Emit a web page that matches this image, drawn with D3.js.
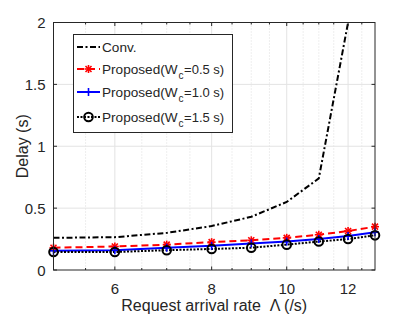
<!DOCTYPE html>
<html><head><meta charset="utf-8">
<script src="https://cdn.jsdelivr.net/npm/d3@7"></script>
<style>body{margin:0;background:#fff}svg{display:block}text{font-family:"Liberation Sans",Arial,sans-serif;fill:#262626;white-space:pre}</style>
</head><body>
<svg id="c" width="415" height="317"></svg>
<script>
const lambda = [5, 6, 7, 8, 9, 10, 11, 12, 13];
const conv   = [0.26, 0.265, 0.30, 0.355, 0.43, 0.55, 0.74, 2.0, null];
const wc05   = [0.18, 0.19, 0.205, 0.225, 0.24, 0.26, 0.285, 0.315, 0.35];
const wc10   = [0.155, 0.16, 0.18, 0.195, 0.215, 0.23, 0.25, 0.275, 0.305];
const wc15   = [0.145, 0.145, 0.16, 0.17, 0.18, 0.205, 0.23, 0.25, 0.28];
const xTicks = [6, 8, 10, 12];
const xMinor = [5.5, 6.5, 7, 7.5, 8.5, 9, 9.5, 10.5, 11, 11.5, 12.5];
const yTicks = [0, 0.5, 1, 1.5, 2];
const yTickLabels = ["0", "0.5", "1", "1.5", "2"];
const legendLabels = ["Conv.", "Proposed(W", "Proposed(W", "Proposed(W"];
const legendWc = [null, "=0.5 s)", "=1.0 s)", "=1.5 s)"];

const svg = d3.select("#c");
const L = 53.5, R = 375, T = 22.5, B = 270;
const x = d3.scaleLog().domain([5, 13]).range([L, R]);
const y = d3.scaleLinear().domain([0, 2]).range([B, T]);

// grid
const g = svg.append("g");
g.selectAll(".gx").data(xMinor).enter().append("line")
  .attr("x1", d => x(d)).attr("x2", d => x(d)).attr("y1", T).attr("y2", B)
  .attr("stroke", "#d0d0d0").attr("stroke-width", 0.7).attr("stroke-dasharray", "1,2");
g.selectAll(".gX").data(xTicks).enter().append("line")
  .attr("x1", d => x(d)).attr("x2", d => x(d)).attr("y1", T).attr("y2", B)
  .attr("stroke", "#e3e3e3").attr("stroke-width", 1);
g.selectAll(".gY").data(yTicks.slice(1, 4)).enter().append("line")
  .attr("x1", L).attr("x2", R).attr("y1", d => y(d)).attr("y2", d => y(d))
  .attr("stroke", "#e3e3e3").attr("stroke-width", 1);

// clip
svg.append("clipPath").attr("id", "clip").append("rect")
  .attr("x", L).attr("y", T).attr("width", R - L).attr("height", B - T);

const line = d3.line().defined(d => d[1] != null).x(d => x(d[0])).y(d => y(d[1]));
const series = [
  {v: conv, color: "#000", dash: "6,2.5,2,2.5", w: 2, marker: null},
  {v: wc05, color: "#ff0000", dash: "7,4", w: 2, marker: "star"},
  {v: wc10, color: "#0000ff", dash: null, w: 2, marker: "plus"},
  {v: wc15, color: "#000", dash: "2,1.5", w: 2, marker: "circle"}
];
const plot = svg.append("g").attr("clip-path", "url(#clip)");
function drawMarker(sel, type, color, cx, cy) {
  if (type === "circle") {
    sel.append("circle").attr("cx", cx).attr("cy", cy).attr("r", 4.3)
      .attr("fill", "none").attr("stroke", color).attr("stroke-width", 2);
  } else if (type === "plus" || type === "star") {
    const s = 4;
    const p = [[-s, 0, s, 0], [0, -s, 0, s]];
    if (type === "star") { const k = s * 0.75; p.push([-k, -k, k, k], [-k, k, k, -k]); }
    p.forEach(q => sel.append("line").attr("x1", cx + q[0]).attr("y1", cy + q[1])
      .attr("x2", cx + q[2]).attr("y2", cy + q[3]).attr("stroke", color).attr("stroke-width", 1.6));
  }
}
series.forEach(s => {
  const data = lambda.map((l, i) => [l, s.v[i]]);
  plot.append("path").datum(data).attr("d", line).attr("fill", "none")
    .attr("stroke", s.color).attr("stroke-width", s.w)
    .attr("stroke-dasharray", s.dash);
});
const mk = svg.append("g");
series.forEach(s => {
  if (!s.marker) return;
  lambda.forEach((l, i) => { if (s.v[i] != null) drawMarker(mk, s.marker, s.color, x(l), y(s.v[i])); });
});

// axes box
const ax = svg.append("g");
ax.append("rect").attr("x", L).attr("y", T).attr("width", R - L).attr("height", B - T)
  .attr("fill", "none").attr("stroke", "#262626").attr("stroke-width", 1);
const tl = 3.5, tm = 2;
xTicks.forEach(d => {
  ax.append("line").attr("x1", x(d)).attr("x2", x(d)).attr("y1", B).attr("y2", B - tl).attr("stroke", "#262626");
  ax.append("line").attr("x1", x(d)).attr("x2", x(d)).attr("y1", T).attr("y2", T + tl).attr("stroke", "#262626");
});
xMinor.forEach(d => {
  ax.append("line").attr("x1", x(d)).attr("x2", x(d)).attr("y1", B).attr("y2", B - tm).attr("stroke", "#262626");
  ax.append("line").attr("x1", x(d)).attr("x2", x(d)).attr("y1", T).attr("y2", T + tm).attr("stroke", "#262626");
});
yTicks.forEach(d => {
  ax.append("line").attr("x1", L).attr("x2", L + tl).attr("y1", y(d)).attr("y2", y(d)).attr("stroke", "#262626");
  ax.append("line").attr("x1", R).attr("x2", R - tl).attr("y1", y(d)).attr("y2", y(d)).attr("stroke", "#262626");
});
xTicks.forEach(d => ax.append("text").attr("x", x(d)).attr("y", 293.5).attr("text-anchor", "middle")
  .attr("font-size", 15).text(d3.format("d")(d)));
yTicks.forEach((d, i) => ax.append("text").attr("x", L - 8).attr("y", y(d) + 5.5).attr("text-anchor", "end")
  .attr("font-size", 15).text(yTickLabels[i]));
ax.append("text").attr("x", (L + R) / 2).attr("y", 311).attr("text-anchor", "middle").attr("font-size", 16)
  .text("Request arrival rate  Λ (/s)");
ax.append("text").attr("transform", `translate(28,${(T + B) / 2}) rotate(-90)`).attr("text-anchor", "middle")
  .attr("font-size", 16).text("Delay (s)");

// legend
const lg = svg.append("g");
lg.append("rect").attr("x", 73.5).attr("y", 34.5).attr("width", 159).attr("height", 98)
  .attr("fill", "#fff").attr("stroke", "#262626").attr("stroke-width", 1);
const ly = [47, 69, 92, 117];
series.forEach((s, i) => {
  lg.append("line").attr("x1", 77).attr("x2", 100).attr("y1", ly[i]).attr("y2", ly[i])
    .attr("stroke", s.color).attr("stroke-width", s.w).attr("stroke-dasharray", s.dash);
  if (s.marker) drawMarker(lg, s.marker, s.color, 88.5, ly[i]);
  const t = lg.append("text").attr("x", 102).attr("y", ly[i] + 5).attr("font-size", 13.6);
  t.append("tspan").text(legendLabels[i]);
  if (legendWc[i]) {
    t.append("tspan").attr("dx", 1).attr("dy", 5).attr("font-size", 10).text("c");
    t.append("tspan").attr("dx", 0.5).attr("dy", -5).attr("font-size", 13).text(legendWc[i]);
  }
});
</script>
</body></html>
